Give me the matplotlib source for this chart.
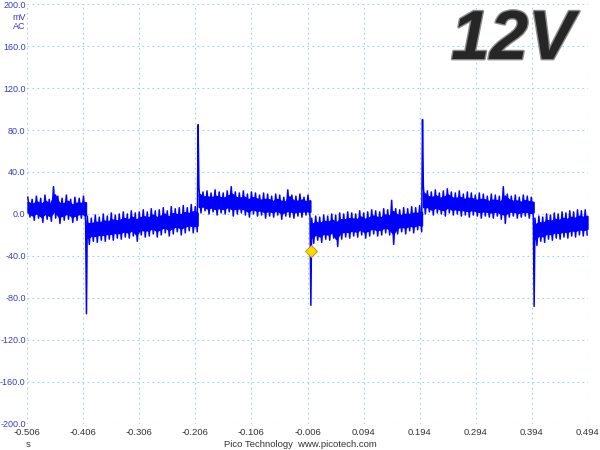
import numpy as np
import matplotlib
matplotlib.use('Agg')
import matplotlib.pyplot as plt
import matplotlib.patheffects as pe

plt.rcParams['font.family'] = ['Liberation Sans', 'DejaVu Sans']

# segment edges (s) - trigger at 0
edges = [-0.506, -0.400, -0.201, 0.0, 0.199, 0.398, 0.494]
# spike at each step (mV)
spikes = [-95, 85, -87, 90, -88]

# ripple tooth tips per segment (mV): top tips and bottom tips
top0 = [16, 14, 17, 15, 18, 14, 26, 17, 15, 18, 14, 16, 15, 17]
bot0 = [-3, -6, -4, -8, -5, -7, -4, -9, -6, -5, -8, -6, -4, -7]
top1 = [-2, -4, -1, -3, 0, -2, 1, -1, 0, 2, 0, 3, 1, 2, 4, 2, 5, 3, 4, 6, 3, 7, 5, 6, 8, 6, 9, 7]
bot1 = [-29, -26, -27, -25, -26, -24, -25, -23, -24, -22, -23, -21, -26, -20, -22, -21, -19, -22, -20, -18, -21, -19, -17, -20, -18, -16, -18, -17]
top2 = [25, 21, 22, 20, 23, 21, 20, 22, 26, 21, 20, 22, 19, 21, 20, 18, 20, 19, 17, 19, 18, 16, 23, 18, 17, 19, 16, 18]
bot2 = [1, 3, 0, 2, -1, 1, 0, 2, -2, 0, 1, -1, -3, 0, -2, -1, -4, -2, -3, -1, -5, -2, -3, -4, -2, -3, -1, -3]
top3 = [-4, -2, -3, -1, -2, 0, -1, 1, 0, 2, 1, 0, 3, 1, 2, 4, 3, 2, 5, 4, 13, 5, 4, 6, 5, 7, 6, 8]
bot3 = [-28, -25, -27, -24, -25, -23, -31, -24, -22, -23, -21, -22, -20, -23, -21, -19, -21, -20, -18, -20, -29, -19, -17, -19, -16, -18, -15, -17]
top4 = [27, 22, 21, 23, 20, 22, 24, 21, 20, 22, 19, 21, 20, 18, 20, 19, 17, 19, 18, 17, 26, 19, 17, 18, 16, 18, 17, 16]
bot4 = [0, 2, -1, 1, 0, -2, 1, -1, 0, -2, -1, -3, -1, -2, -4, -2, -3, -4, -2, -5, -9, -3, -2, -4, -3, -2, -4, -3]
top5 = [-4, -2, -3, 0, -1, 1, 0, 2, 1, 3, 2, 4, 3, 4]
bot5 = [-30, -26, -27, -24, -25, -23, -24, -22, -23, -21, -22, -20, -21, -20]

tops = [top0, top1, top2, top3, top4, top5]
bots = [bot0, bot1, bot2, bot3, bot4, bot5]

trigger = (0.0, -35)

xticks = [-0.506, -0.406, -0.306, -0.206, -0.106, -0.006, 0.094, 0.194, 0.294, 0.394, 0.494]
yticks = [-200, -160, -120, -80, -40, 0, 40, 80, 120, 160, 200]

fig = plt.figure(figsize=(6, 4.5), dpi=100)
ax = fig.add_axes([0.045, 0.058, 0.935, 0.933])

blue = '#0000ff'
ts, vs = [], []
for i in range(len(tops)):
    top = np.array(tops[i], dtype=float)
    bot = np.array(bots[i], dtype=float)
    n = len(top)
    seg = np.empty(2 * n)
    seg[0::2] = top
    seg[1::2] = bot
    t = np.linspace(edges[i] + 0.0015, edges[i + 1] - 0.0015, 2 * n)
    # solid core of the band, teeth stick out of it
    tc = np.linspace(t[0], t[-1], n)
    ax.fill_between(tc, bot + 0.75 * (top - bot), bot + 0.25 * (top - bot),
                    color=blue, lw=1.5, zorder=3)
    ts.extend(t)
    vs.extend(seg)
    if i < len(spikes):
        ts.append(edges[i + 1])
        vs.append(spikes[i])

ax.plot(ts, vs, color=blue, lw=1.1, zorder=3)
ax.plot(*trigger, marker='D', ms=6, mfc='#ffd800', mec='#b09000', mew=0.6, zorder=4, clip_on=False)

ax.set_xlim(xticks[0], xticks[-1])
ax.set_ylim(-200, 200)
ax.set_xticks(xticks)
ax.set_xticklabels(['%.3f' % x for x in xticks], fontsize=6.8, color='#333333')
ax.set_yticks(yticks)
ax.set_yticklabels(['%.1f' % y for y in yticks], fontsize=6.5, color='#3a3acc')
ax.tick_params(axis='y', length=0, pad=1)
ax.tick_params(axis='x', length=0, pad=3)
for s in ax.spines.values():
    s.set_visible(False)
ax.grid(True, ls=(0, (1.5, 3)), color='#a9cfdc', lw=0.8)
ax.set_axisbelow(True)

# units under top label
ax.text(-0.002, 0.969, 'mV', transform=ax.transAxes, ha='right', va='center', fontsize=6.5, color='#3a3acc')
ax.text(-0.002, 0.947, 'AC', transform=ax.transAxes, ha='right', va='center', fontsize=6.5, color='#3a3acc')

fig.text(0.047, 0.006, 's', fontsize=6.8, color='#333333', ha='center')
fig.text(0.5, 0.006, 'Pico Technology  www.picotech.com', fontsize=6.8, color='#333333', ha='center')

ax.text(0.866, 0.912, '12V', transform=ax.transAxes, ha='center', va='center',
        fontsize=50, fontweight='bold', fontstyle='italic',
        color='#262626',
        path_effects=[pe.withStroke(linewidth=2, foreground='#8a8a8a')])

fig.savefig('out.png', dpi=100, facecolor='white')
